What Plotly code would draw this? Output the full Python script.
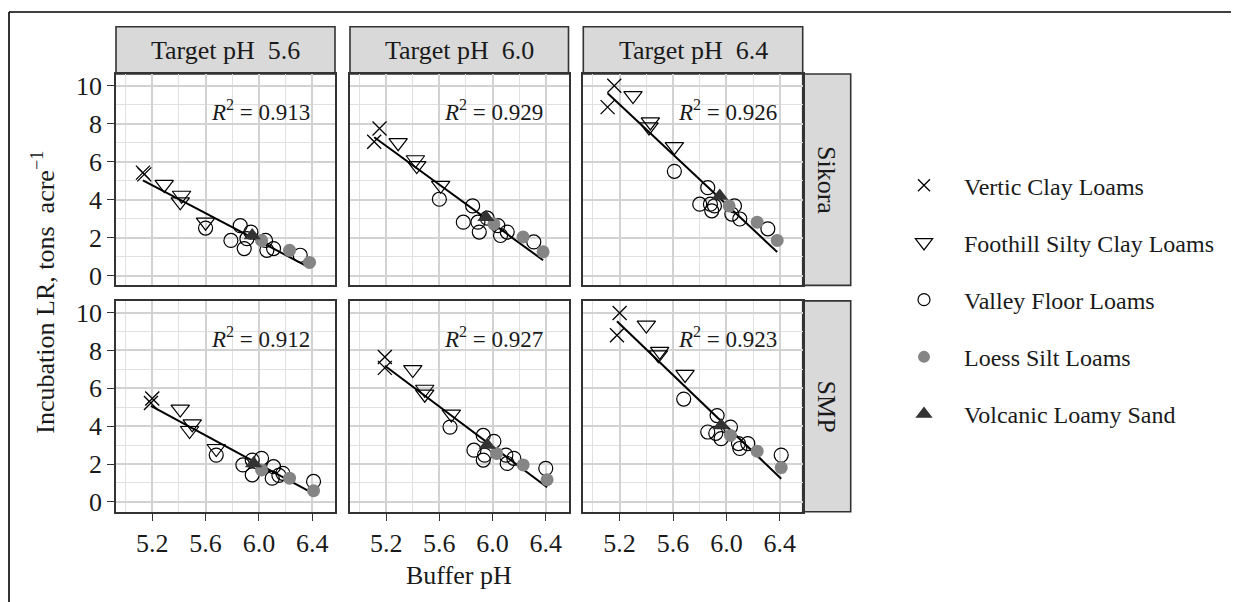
import numpy as np
import plotly.graph_objects as go

# The page body has an 8px default margin: the figure is sized to fill the rest of the window.
PAGE_W, PAGE_H = 1239, 602
OFF = 8
W, H = PAGE_W - OFF, PAGE_H - OFF
FONT = "Liberation Serif"

# ---------------- data ----------------
soil_groups = ["Vertic Clay Loams", "Foothill Silty Clay Loams", "Valley Floor Loams",
               "Loess Silt Loams", "Volcanic Loamy Sand"]
methods = ["Sikora", "SMP"]
target_labels = ["Target pH\u00a0 5.6", "Target pH\u00a0 6.0", "Target pH\u00a0 6.4"]
r2_values = ["0.913", "0.929", "0.926", "0.912", "0.927", "0.923"]
x_ticks = [5.2, 5.6, 6.0, 6.4]
y_ticks = [0, 2, 4, 6, 8, 10]

# soil codes: 0 Vertic, 1 Foothill, 2 Valley, 3 Loess, 4 Volcanic
sik56_soil = [0, 0, 1, 1, 1, 1, 2, 2, 2, 2, 2, 2, 2, 2, 2, 2, 3, 3, 3, 4]
sik56_ph = [5.13, 5.14, 5.29, 5.42, 5.41, 5.60, 5.60, 5.86, 5.79, 5.89, 5.91, 5.94, 6.05, 6.06, 6.11, 6.31, 6.02, 6.23, 6.38, 5.95]
sik56_lr = [5.42, 5.33, 4.80, 4.23, 3.88, 2.81, 2.50, 2.63, 1.85, 1.42, 1.94, 2.29, 1.85, 1.33, 1.42, 1.07, 1.85, 1.33, 0.69, 2.11]

sik60_soil = [0, 0, 1, 1, 1, 1, 2, 2, 2, 2, 2, 2, 2, 2, 2, 2, 3, 3, 3, 4]
sik60_ph = [5.15, 5.11, 5.29, 5.42, 5.43, 5.61, 5.60, 5.85, 5.78, 5.89, 5.90, 5.96, 6.04, 6.06, 6.11, 6.31, 6.01, 6.23, 6.38, 5.95]
sik60_lr = [7.75, 7.05, 7.00, 6.10, 5.79, 4.75, 4.02, 3.67, 2.81, 2.81, 2.29, 3.02, 2.63, 2.11, 2.29, 1.77, 2.72, 2.03, 1.25, 3.07]

sik64_soil = [0, 0, 1, 1, 1, 1, 2, 2, 2, 2, 2, 2, 2, 2, 2, 2, 3, 3, 3, 4]
sik64_ph = [5.16, 5.11, 5.30, 5.43, 5.42, 5.61, 5.61, 5.86, 5.80, 5.88, 5.89, 5.91, 6.06, 6.04, 6.10, 6.31, 6.02, 6.23, 6.38, 5.95]
sik64_lr = [10.0, 8.87, 9.48, 8.09, 7.83, 6.79, 5.49, 4.63, 3.76, 3.76, 3.41, 3.67, 3.67, 3.24, 2.98, 2.46, 3.67, 2.81, 1.85, 4.19]

smp56_soil = [0, 0, 1, 1, 1, 1, 2, 2, 2, 2, 2, 2, 2, 2, 2, 2, 3, 3, 3, 4]
smp56_ph = [5.20, 5.19, 5.41, 5.50, 5.48, 5.68, 5.68, 5.95, 6.02, 5.88, 5.95, 6.11, 6.10, 6.18, 6.15, 6.41, 6.02, 6.23, 6.41, 5.96]
smp56_lr = [5.46, 5.22, 4.90, 4.12, 3.77, 2.82, 2.47, 2.21, 2.30, 1.95, 1.43, 1.86, 1.25, 1.51, 1.40, 1.08, 1.69, 1.25, 0.59, 2.03]

smp60_soil = [0, 0, 1, 1, 1, 1, 2, 2, 2, 2, 2, 2, 2, 2, 2, 2, 3, 3, 3, 4]
smp60_ph = [5.19, 5.19, 5.40, 5.49, 5.49, 5.69, 5.68, 5.93, 5.86, 5.94, 5.93, 6.01, 6.10, 6.11, 6.16, 6.40, 6.03, 6.23, 6.41, 5.96]
smp60_lr = [7.65, 7.08, 6.99, 5.95, 5.69, 4.64, 3.95, 3.51, 2.73, 2.47, 2.21, 3.20, 2.47, 2.03, 2.30, 1.77, 2.56, 1.95, 1.17, 3.00]

smp64_soil = [0, 0, 1, 1, 1, 1, 2, 2, 2, 2, 2, 2, 2, 2, 2, 2, 3, 3, 3, 4]
smp64_ph = [5.20, 5.18, 5.40, 5.50, 5.49, 5.69, 5.68, 5.93, 5.86, 5.96, 5.92, 6.03, 6.09, 6.10, 6.16, 6.41, 6.03, 6.23, 6.41, 5.96]
smp64_lr = [9.98, 8.80, 9.34, 7.95, 7.77, 6.73, 5.43, 4.56, 3.69, 3.34, 3.62, 3.95, 3.08, 2.82, 3.08, 2.47, 3.51, 2.68, 1.81, 4.03]

panels = [
    (sik56_ph, sik56_lr, sik56_soil), (sik60_ph, sik60_lr, sik60_soil), (sik64_ph, sik64_lr, sik64_soil),
    (smp56_ph, smp56_lr, smp56_soil), (smp60_ph, smp60_lr, smp60_soil), (smp64_ph, smp64_lr, smp64_soil),
]

# ---------------- styles ----------------
symbols = ["x-thin-open", "triangle-down-open", "circle-open", "circle", "triangle-up"]
sizes = [14, 16, 14, 13, 15]
colors = ["#000000", "#000000", "#000000", "#858585", "#333333"]
line_w = [1.3, 1.2, 1.2, 0, 0]
leg_sizes = [12, 15, 12, 12, 15]

# layout geometry in page pixels
col_x = [(116, 335), (350, 568.5), (583.3, 802.7)]
row_y = [(72.7, 286.7), (302.3, 515.7)]
x_range = [4.928, 6.571]
y_range = [-0.52, 10.62]


def px(v):
    return (v - OFF) / W


def py(v):
    return 1 - (v - OFF) / H


fig = go.Figure()

for i, (ph, lr, soil) in enumerate(panels):
    ax = "" if i == 0 else str(i + 1)
    ph_a = np.array(ph)
    lr_a = np.array(lr)
    slope, icpt = np.polyfit(ph_a, lr_a, 1)
    xs = np.array([ph_a.min(), ph_a.max()])
    fig.add_trace(go.Scatter(x=xs, y=icpt + slope * xs, mode="lines",
                             line=dict(color="black", width=2), showlegend=False,
                             hoverinfo="skip", xaxis="x" + ax, yaxis="y" + ax))
    soil_a = np.array(soil)
    for g in range(5):
        m = soil_a == g
        fig.add_trace(go.Scatter(
            x=ph_a[m], y=lr_a[m], mode="markers", name=soil_groups[g],
            legendgroup=soil_groups[g], showlegend=False,
            marker=dict(symbol=symbols[g], size=sizes[g], color=colors[g],
                        line=dict(color=colors[g], width=line_w[g])),
            xaxis="x" + ax, yaxis="y" + ax))

# legend-only entries
for g in range(5):
    fig.add_trace(go.Scatter(
        x=[None], y=[None], mode="markers", name=soil_groups[g],
        legendgroup=soil_groups[g], showlegend=True,
        marker=dict(symbol=symbols[g], size=leg_sizes[g], color=colors[g],
                    line=dict(color=colors[g], width=line_w[g]))))

layout = dict(
    width=W, height=H, margin=dict(l=0, r=0, t=0, b=0),
    paper_bgcolor="white", plot_bgcolor="white",
    font=dict(family=FONT, size=26, color="#1a1a1a"),
    showlegend=True,
    legend=dict(x=px(884), y=py(163), xanchor="left", yanchor="top",
                font=dict(family=FONT, size=24, color="#1a1a1a"),
                tracegroupgap=23, itemwidth=70, bgcolor="rgba(0,0,0,0)",
                traceorder="grouped"),
)

for i in range(6):
    r, c = divmod(i, 3)
    ax = "" if i == 0 else str(i + 1)
    layout["xaxis" + ax] = dict(
        domain=[px(col_x[c][0]), px(col_x[c][1])], range=x_range, anchor="y" + ax,
        tickvals=x_ticks, ticktext=[f"{v:.1f}" for v in x_ticks],
        showticklabels=(r == 1), ticks="outside" if r == 1 else "",
        ticklen=7, tickwidth=1.2, tickcolor="#333333",
        tickfont=dict(family=FONT, size=26, color="#1a1a1a"),
        showgrid=True, gridcolor="#d2d2d2", gridwidth=1.5,
        minor=dict(tickvals=[5.0, 5.4, 5.8, 6.2], showgrid=True, gridcolor="#e0e0e0", gridwidth=1, ticks=""),
        showline=True, mirror=True, linecolor="#333333", linewidth=1.6, zeroline=False,
    )
    layout["yaxis" + ax] = dict(
        domain=[py(row_y[r][1]), py(row_y[r][0])], range=y_range, anchor="x" + ax,
        tickvals=y_ticks, showticklabels=(c == 0), ticks="outside" if c == 0 else "",
        ticklen=7, tickwidth=1.2, tickcolor="#333333",
        tickfont=dict(family=FONT, size=26, color="#1a1a1a"),
        showgrid=True, gridcolor="#d2d2d2", gridwidth=1.5,
        minor=dict(tickvals=[1, 3, 5, 7, 9], showgrid=True, gridcolor="#e0e0e0", gridwidth=1, ticks=""),
        showline=True, mirror=True, linecolor="#333333", linewidth=1.6, zeroline=False,
    )

shapes = []
annotations = []
# top strips
for c in range(3):
    x0, x1 = col_x[c]
    shapes.append(dict(type="rect", xref="paper", yref="paper", x0=px(x0), x1=px(x1),
                       y0=py(72.7), y1=py(25), fillcolor="#d9d9d9",
                       line=dict(color="#333333", width=1.6), layer="below"))
    annotations.append(dict(text=target_labels[c], xref="paper", yref="paper",
                            x=px((x0 + x1) / 2), y=py(49), showarrow=False,
                            font=dict(family=FONT, size=26, color="#1a1a1a"),
                            xanchor="center", yanchor="middle"))
# right strips
for r in range(2):
    y0, y1 = row_y[r]
    shapes.append(dict(type="rect", xref="paper", yref="paper", x0=px(802.7), x1=px(850.7),
                       y0=py(y1), y1=py(y0), fillcolor="#d9d9d9",
                       line=dict(color="#333333", width=1.6), layer="below"))
    annotations.append(dict(text=methods[r], xref="paper", yref="paper",
                            x=px(826.7), y=py((y0 + y1) / 2), showarrow=False, textangle=90,
                            font=dict(family=FONT, size=26, color="#1a1a1a"),
                            xanchor="center", yanchor="middle"))
# R^2 labels
for i in range(6):
    ax = "" if i == 0 else str(i + 1)
    annotations.append(dict(text=f"<i>R</i><sup>2</sup> = {r2_values[i]}", xref="x" + ax, yref="y" + ax,
                            x=6.01, y=8.7, showarrow=False, xanchor="center", yanchor="middle",
                            font=dict(family=FONT, size=23, color="#1a1a1a")))
# axis titles
annotations.append(dict(text="Buffer pH", xref="paper", yref="paper", x=px(459), y=py(580),
                        showarrow=False, xanchor="center", yanchor="middle",
                        font=dict(family=FONT, size=26, color="#1a1a1a")))
annotations.append(dict(text="Incubation LR, tons\u00a0 acre<sup>\u22121</sup>", xref="paper", yref="paper",
                        x=px(44), y=py(294), showarrow=False, textangle=-90,
                        xanchor="center", yanchor="middle",
                        font=dict(family=FONT, size=26, color="#1a1a1a")))
# outer frame (top and left edges)
shapes.append(dict(type="line", xref="paper", yref="paper", x0=px(9), x1=1.01, y0=py(10), y1=py(10),
                   line=dict(color="black", width=1.6)))
shapes.append(dict(type="line", xref="paper", yref="paper", x0=px(9), x1=px(9), y0=py(10), y1=-0.01,
                   line=dict(color="black", width=1.6)))

layout["shapes"] = shapes
layout["annotations"] = annotations
fig.update_layout(**layout)

fig.write_html("out.html")
